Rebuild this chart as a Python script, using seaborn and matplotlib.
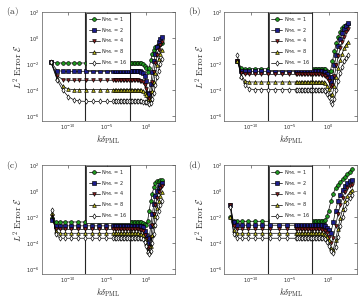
import numpy as np
import pandas as pd
import seaborn as sns
import matplotlib
matplotlib.use("Agg")
import matplotlib.pyplot as plt
from matplotlib.ticker import FixedLocator, NullLocator, LogFormatterMathtext

# N_PML values and styles
n_pml = [1, 2, 4, 8, 16]
face_colors = ["#1f9a1f", "#1c1c8a", "#8a1c1c", "#b8b41e", "#ffffff"]
marker_list = ["o", "s", "v", "^", "d"]

# values are log10(k*delta) and log10(L2 error)

# ---- panel (a) ----
xa = [-12.2, -11.4, -10.7, -10.0, -9.3, -8.6, -7.7, -6.8, -5.9, -5.0,
      -4.2, -4.0, -3.8, -3.6, -3.4, -3.2, -3.0, -2.8, -2.6, -2.4, -2.2, -2.0, -1.8, -1.6, -1.4, -1.2, -1.0,
      -0.8, -0.6, -0.4, -0.2, 0.0,
      0.2, 0.4, 0.6, 0.8, 1.0, 1.2, 1.4, 1.6, 1.8, 2.0]
ya_1 = [-1.87, -1.92, -1.92, -1.92, -1.92, -1.92, -1.92, -1.92, -1.92, -1.92,
        -1.92, -1.92, -1.92, -1.92, -1.92, -1.92, -1.92, -1.92, -1.92, -1.92, -1.92, -1.92, -1.92, -1.92, -1.92, -1.92, -1.92,
        -1.93, -1.95, -2.0, -2.12, -2.3,
        -2.6, -2.3, -1.7, -1.2, -0.9, -0.7, -0.6, -0.5, -0.45, -0.4]
ya_2 = [-1.87, -2.5, -2.56, -2.56, -2.56, -2.56, -2.56, -2.56, -2.56, -2.56,
        -2.56, -2.56, -2.56, -2.56, -2.56, -2.56, -2.56, -2.56, -2.56, -2.56, -2.56, -2.56, -2.56, -2.56, -2.56, -2.56, -2.56,
        -2.57, -2.6, -2.66, -2.95, -3.3,
        -4.2, -4.3, -3.5, -2.6, -1.8, -1.2, -0.7, -0.3, -0.05, 0.1]
ya_4 = [-1.87, -2.9, -3.2, -3.25, -3.25, -3.25, -3.25, -3.25, -3.25, -3.25,
        -3.25, -3.25, -3.25, -3.25, -3.25, -3.25, -3.25, -3.25, -3.25, -3.25, -3.25, -3.25, -3.25, -3.25, -3.25, -3.25, -3.25,
        -3.27, -3.3, -3.36, -3.6, -3.9,
        -4.6, -4.7, -4.2, -3.4, -2.6, -1.9, -1.3, -0.9, -0.5, -0.3]
ya_8 = [-1.87, -3.1, -3.7, -3.92, -3.97, -3.97, -3.97, -3.97, -3.97, -3.97,
        -3.97, -3.97, -3.97, -3.97, -3.97, -3.97, -3.97, -3.97, -3.97, -3.97, -3.97, -3.97, -3.97, -3.97, -3.97, -3.97, -3.97,
        -3.98, -4.0, -4.05, -4.2, -4.4,
        -4.8, -4.95, -4.7, -4.1, -3.4, -2.7, -2.1, -1.6, -1.2, -0.9]
ya_16 = [-1.87, -3.25, -4.0, -4.5, -4.75, -4.85, -4.87, -4.87, -4.87, -4.87,
         -4.87, -4.87, -4.87, -4.87, -4.87, -4.87, -4.87, -4.87, -4.87, -4.87, -4.87, -4.87, -4.87, -4.87, -4.87, -4.87, -4.87,
         -4.87, -4.88, -4.89, -4.92, -4.95,
         -5.0, -5.05, -5.0, -4.7, -4.2, -3.6, -3.0, -2.5, -2.0, -1.6]

# ---- panel (b) ----
xb = [-11.7, -11.2, -10.7, -10.2, -9.5, -8.7, -7.8, -6.9, -6.0, -5.1,
      -4.2, -4.0, -3.8, -3.6, -3.4, -3.2, -3.0, -2.8, -2.6, -2.4, -2.2, -2.0, -1.8, -1.6, -1.4, -1.2, -1.0,
      -0.8, -0.6, -0.4, -0.2, 0.0,
      0.25, 0.5, 0.75, 1.0, 1.25, 1.5, 1.75, 2.0, 2.25, 2.5]
yb_1 = [-1.75, -2.3, -2.36, -2.36, -2.36, -2.36, -2.36, -2.36, -2.36, -2.36,
        -2.36, -2.36, -2.36, -2.36, -2.36, -2.36, -2.36, -2.36, -2.36, -2.36, -2.36, -2.36, -2.36, -2.36, -2.36, -2.36, -2.36,
        -2.37, -2.38, -2.41, -2.5, -2.6,
        -2.5, -1.8, -1.0, -0.4, 0.1, 0.5, 0.75, 0.9, 1.0, 1.05]
yb_2 = [-1.8, -2.5, -2.56, -2.56, -2.56, -2.56, -2.56, -2.56, -2.56, -2.56,
        -2.56, -2.56, -2.56, -2.56, -2.56, -2.56, -2.56, -2.56, -2.56, -2.56, -2.56, -2.56, -2.56, -2.56, -2.56, -2.56, -2.56,
        -2.57, -2.6, -2.64, -2.8, -3.0,
        -3.4, -3.0, -2.1, -1.3, -0.6, -0.1, 0.35, 0.7, 0.95, 1.15]
yb_4 = [-1.8, -2.7, -2.8, -2.8, -2.8, -2.8, -2.8, -2.8, -2.8, -2.8,
        -2.8, -2.8, -2.8, -2.8, -2.8, -2.8, -2.8, -2.8, -2.8, -2.8, -2.8, -2.8, -2.8, -2.8, -2.8, -2.8, -2.8,
        -2.82, -2.85, -2.9, -3.1, -3.3,
        -3.8, -3.6, -2.9, -2.1, -1.4, -0.8, -0.3, 0.1, 0.45, 0.7]
yb_8 = [-1.8, -2.9, -3.3, -3.38, -3.38, -3.38, -3.38, -3.38, -3.38, -3.38,
        -3.38, -3.38, -3.38, -3.38, -3.38, -3.38, -3.38, -3.38, -3.38, -3.38, -3.38, -3.38, -3.38, -3.38, -3.38, -3.38, -3.38,
        -3.4, -3.42, -3.48, -3.7, -3.9,
        -4.4, -4.3, -3.7, -3.0, -2.3, -1.7, -1.2, -0.8, -0.5, -0.3]
yb_16 = [-1.33, -3.0, -3.6, -3.9, -3.97, -3.97, -3.97, -3.97, -3.97, -3.97,
         -3.97, -3.97, -3.97, -3.97, -3.97, -3.97, -3.97, -3.97, -3.97, -3.97, -3.97, -3.97, -3.97, -3.97, -3.97, -3.97, -3.97,
         -3.98, -4.0, -4.08, -4.3, -4.5,
         -4.9, -5.05, -4.7, -4.0, -3.3, -2.7, -2.2, -1.8, -1.5, -1.3]

# ---- panel (c) ----
xc = [-12.1, -11.6, -11.1, -10.4, -9.6, -8.8, -7.9, -7.0, -6.1, -5.1,
      -4.2, -4.0, -3.8, -3.6, -3.4, -3.2, -3.0, -2.8, -2.6, -2.4, -2.2, -2.0, -1.8, -1.6, -1.4, -1.2, -1.0,
      -0.8, -0.6, -0.4, -0.2, 0.0,
      0.2, 0.4, 0.6, 0.8, 1.0, 1.2, 1.4, 1.6, 1.8, 2.0]
yc_1 = [-2.1, -2.38, -2.38, -2.38, -2.38, -2.38, -2.38, -2.38, -2.38, -2.38,
        -2.38, -2.38, -2.38, -2.38, -2.38, -2.38, -2.38, -2.38, -2.38, -2.38, -2.38, -2.38, -2.38, -2.38, -2.38, -2.38, -2.38,
        -2.39, -2.4, -2.45, -2.55, -2.6,
        -2.3, -1.5, -0.8, -0.2, 0.3, 0.6, 0.75, 0.8, 0.85, 0.87]
yc_2 = [-2.25, -2.68, -2.68, -2.68, -2.68, -2.68, -2.68, -2.68, -2.68, -2.68,
        -2.68, -2.68, -2.68, -2.68, -2.68, -2.68, -2.68, -2.68, -2.68, -2.68, -2.68, -2.68, -2.68, -2.68, -2.68, -2.68, -2.68,
        -2.7, -2.72, -2.8, -3.1, -3.4,
        -4.0, -3.6, -2.7, -1.8, -1.0, -0.4, 0.0, 0.3, 0.5, 0.6]
yc_4 = [-1.9, -2.9, -2.95, -2.95, -2.95, -2.95, -2.95, -2.95, -2.95, -2.95,
        -2.95, -2.95, -2.95, -2.95, -2.95, -2.95, -2.95, -2.95, -2.95, -2.95, -2.95, -2.95, -2.95, -2.95, -2.95, -2.95, -2.95,
        -2.97, -3.0, -3.1, -3.4, -3.7,
        -4.4, -4.3, -3.5, -2.6, -1.8, -1.1, -0.5, -0.1, 0.2, 0.4]
yc_8 = [-1.7, -3.1, -3.25, -3.25, -3.25, -3.25, -3.25, -3.25, -3.25, -3.25,
        -3.25, -3.25, -3.25, -3.25, -3.25, -3.25, -3.25, -3.25, -3.25, -3.25, -3.25, -3.25, -3.25, -3.25, -3.25, -3.25, -3.25,
        -3.27, -3.3, -3.4, -3.7, -4.0,
        -4.6, -4.7, -4.2, -3.4, -2.6, -1.9, -1.3, -0.8, -0.4, -0.1]
yc_16 = [-1.43, -3.3, -3.63, -3.63, -3.63, -3.63, -3.63, -3.63, -3.63, -3.63,
         -3.63, -3.63, -3.63, -3.63, -3.63, -3.63, -3.63, -3.63, -3.63, -3.63, -3.63, -3.63, -3.63, -3.63, -3.63, -3.63, -3.63,
         -3.64, -3.65, -3.72, -3.95, -4.2,
         -4.7, -4.85, -4.6, -4.0, -3.3, -2.6, -2.0, -1.5, -1.1, -0.8]

# ---- panel (d) ----
xd = [-12.6, -12.2, -11.8, -11.1, -10.3, -9.4, -8.5, -7.5, -6.4, -5.3,
      -4.2, -4.0, -3.8, -3.6, -3.4, -3.2, -3.0, -2.8, -2.6, -2.4, -2.2, -2.0, -1.8, -1.6, -1.4, -1.2, -1.0,
      -0.8, -0.6, -0.4, -0.2, 0.0,
      0.3, 0.6, 0.9, 1.2, 1.5, 1.8, 2.1, 2.4, 2.7, 3.0]
yd_1 = [-2.0, -2.33, -2.33, -2.33, -2.33, -2.33, -2.33, -2.33, -2.33, -2.33,
        -2.33, -2.33, -2.33, -2.33, -2.33, -2.33, -2.33, -2.33, -2.33, -2.33, -2.33, -2.33, -2.33, -2.33, -2.33, -2.33, -2.33,
        -2.33, -2.3, -2.2, -1.9, -1.5,
        -0.8, -0.2, 0.25, 0.5, 0.7, 0.9, 1.1, 1.3, 1.5, 1.7]
yd_2 = [-1.1, -2.4, -2.63, -2.63, -2.63, -2.63, -2.63, -2.63, -2.63, -2.63,
        -2.63, -2.63, -2.63, -2.63, -2.63, -2.63, -2.63, -2.63, -2.63, -2.63, -2.63, -2.63, -2.63, -2.63, -2.63, -2.63, -2.63,
        -2.64, -2.65, -2.7, -2.85, -3.0,
        -3.2, -2.4, -1.5, -0.8, -0.3, 0.1, 0.4, 0.6, 0.75, 0.85]
yd_4 = [-1.1, -2.7, -2.95, -2.95, -2.95, -2.95, -2.95, -2.95, -2.95, -2.95,
        -2.95, -2.95, -2.95, -2.95, -2.95, -2.95, -2.95, -2.95, -2.95, -2.95, -2.95, -2.95, -2.95, -2.95, -2.95, -2.95, -2.95,
        -2.96, -2.97, -3.05, -3.25, -3.5,
        -4.0, -3.6, -2.7, -1.8, -1.1, -0.5, -0.1, 0.2, 0.4, 0.5]
yd_8 = [-2.0, -3.0, -3.25, -3.25, -3.25, -3.25, -3.25, -3.25, -3.25, -3.25,
        -3.25, -3.25, -3.25, -3.25, -3.25, -3.25, -3.25, -3.25, -3.25, -3.25, -3.25, -3.25, -3.25, -3.25, -3.25, -3.25, -3.25,
        -3.26, -3.27, -3.35, -3.55, -3.8,
        -4.4, -4.5, -3.8, -2.9, -2.1, -1.4, -0.8, -0.4, -0.1, 0.1]
yd_16 = [-1.25, -3.3, -3.63, -3.63, -3.63, -3.63, -3.63, -3.63, -3.63, -3.63,
         -3.63, -3.63, -3.63, -3.63, -3.63, -3.63, -3.63, -3.63, -3.63, -3.63, -3.63, -3.63, -3.63, -3.63, -3.63, -3.63, -3.63,
         -3.64, -3.65, -3.72, -3.95, -4.2,
         -4.6, -4.75, -4.3, -3.5, -2.7, -2.0, -1.4, -0.9, -0.5, -0.3]

panels = [
    ("(a)", xa, [ya_1, ya_2, ya_4, ya_8, ya_16]),
    ("(b)", xb, [yb_1, yb_2, yb_4, yb_8, yb_16]),
    ("(c)", xc, [yc_1, yc_2, yc_4, yc_8, yc_16]),
    ("(d)", xd, [yd_1, yd_2, yd_4, yd_8, yd_16]),
]

# reference lines in k*delta
vlines = [1.5e-8, 8e-3]

sns.set_style("white")
plt.rcParams["mathtext.fontset"] = "cm"
plt.rcParams["font.family"] = ["DejaVu Sans"]

fig = plt.figure(figsize=(3.61, 3.0), dpi=100)
lefts = [0.1155, 0.621]
bottoms = [0.598, 0.088]
W, H = 0.369, 0.362

for i, (tag, xe, series) in enumerate(panels):
    ax = fig.add_axes([lefts[i % 2], bottoms[i // 2], W, H])
    ax.set_xscale("log")
    ax.set_yscale("log")
    for v in vlines:
        ax.axvline(v, color="0.15", lw=0.8, zorder=1)
    for n, fc, mk, ye in zip(n_pml, face_colors, marker_list, series):
        df = pd.DataFrame({"x": 10.0 ** np.array(xe), "y": 10.0 ** np.array(ye)})
        sns.lineplot(data=df, x="x", y="y", ax=ax, estimator=None, sort=False,
                     color="k", lw=0.5, marker=mk, markersize=2.7,
                     markerfacecolor=fc, markeredgecolor="k", markeredgewidth=0.45,
                     label=r"$\mathregular{N_{PML}}$ = %d" % n, zorder=3)
    ax.set_xlim(10 ** -13.4, 10 ** 3.7)
    ax.set_ylim(10 ** -6.35, 10 ** 2)
    ax.xaxis.set_major_locator(FixedLocator([1e-10, 1e-5, 1e0]))
    ax.yaxis.set_major_locator(FixedLocator([1e-6, 1e-4, 1e-2, 1e0, 1e2]))
    ax.xaxis.set_minor_locator(NullLocator())
    ax.yaxis.set_minor_locator(NullLocator())
    ax.xaxis.set_major_formatter(LogFormatterMathtext())
    ax.yaxis.set_major_formatter(LogFormatterMathtext())
    ax.tick_params(axis="both", which="major", labelsize=3.6, direction="in",
                   length=2, width=0.4, top=True, right=True, pad=1.5, colors="0.15")
    for s in ax.spines.values():
        s.set_linewidth(0.5)
        s.set_color("0.35")
    ax.set_xlabel(r"$k\delta_{\mathrm{PML}}$", fontsize=6.5, labelpad=1)
    ax.set_ylabel(r"$L^2\ \mathrm{Error}\ \mathcal{E}$", fontsize=6.5, labelpad=1)
    leg = ax.legend(loc="upper left", bbox_to_anchor=(0.335, 0.995), fontsize=3.6,
                    frameon=True, fancybox=False, edgecolor="k", framealpha=1,
                    handlelength=2.2, handletextpad=0.3, borderpad=0.45,
                    labelspacing=0.4, borderaxespad=0)
    leg.get_frame().set_linewidth(0.5)
    ax.text(-0.27, 1.0, r"$\mathrm{%s}$" % tag, transform=ax.transAxes,
            fontsize=6.5, ha="left", va="center")

fig.savefig("out.png", dpi=100)
